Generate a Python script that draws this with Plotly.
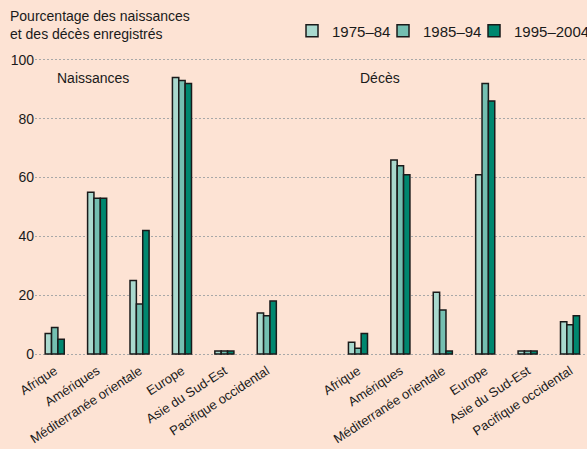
import plotly.graph_objects as go

regions = ["Afrique", "Amériques", "Méditerranée orientale", "Europe",
           "Asie du Sud-Est", "Pacifique occidental"]
periods = ["1975–84", "1985–94", "1995–2004"]
panels = ["Naissances", "Décès"]

births_7584 = [7, 55, 25, 94, 1, 14]
births_8594 = [9, 53, 17, 93, 1, 13]
births_9504 = [5, 53, 42, 92, 1, 18]

deaths_7584 = [4, 66, 21, 61, 1, 11]
deaths_8594 = [2, 64, 15, 92, 1, 10]
deaths_9504 = [7, 61, 1, 86, 1, 13]

y_ticks = [0, 20, 40, 60, 80, 100]

colors = ["#A9D9CE", "#74BFB1", "#00876F"]
FONT = "Liberation Sans, Arial, Helvetica, sans-serif"
BG = "#FDE3D4"
INK = "#1a1a1a"

panel_offset = len(regions) + 1.15
x_births = [i for i in range(len(regions))]
x_deaths = [i + panel_offset for i in range(len(regions))]

series = [
    (births_7584, deaths_7584),
    (births_8594, deaths_8594),
    (births_9504, deaths_9504),
]

fig = go.Figure()
for k, (b, d) in enumerate(series):
    fig.add_trace(go.Bar(
        x=x_births + x_deaths,
        y=b + d,
        name=periods[k],
        marker=dict(color=colors[k], line=dict(color=INK, width=1.5)),
    ))

# invisible spacer legend entry (scatter, so it does not take a bar slot)
fig.add_trace(go.Scatter(x=[None], y=[None], name=" ", mode="markers",
                         hoverinfo="skip",
                         marker=dict(color="rgba(0,0,0,0)", size=1)))

for name, x0 in zip(panels, [x_births[0], x_deaths[0]]):
    fig.add_annotation(x=x0, y=94, xref="x", yref="y", text=name,
                       showarrow=False, xanchor="left", yanchor="middle",
                       font=dict(size=14, color=INK, family=FONT))

fig.add_annotation(
    text="Pourcentage des naissances<br>et des décès enregistrés",
    xref="paper", yref="paper", x=-27 / 552, y=1 + 51 / 300,
    xanchor="left", yanchor="top", align="left", showarrow=False,
    font=dict(size=14, family=FONT, color=INK),
)

fig.update_layout(
    width=587, height=449,
    paper_bgcolor=BG, plot_bgcolor=BG,
    font=dict(family=FONT, size=14, color=INK),
    margin=dict(l=35, r=0, t=57, b=92, autoexpand=False),
    barmode="group", bargap=0.55, bargroupgap=0,
    legend=dict(orientation="h", x=0.4656, xanchor="left", y=1.087, yanchor="middle",
                font=dict(size=15, family=FONT, color=INK), bgcolor="rgba(0,0,0,0)",
                traceorder="normal", entrywidth=46, entrywidthmode="pixels"),
    showlegend=True,
)
fig.update_xaxes(
    range=[-0.465, 12.55],
    tickvals=x_births + x_deaths,
    ticktext=regions + regions,
    tickangle=-33, showgrid=False, zeroline=False, showline=False, ticks="",
    ticklabelstandoff=3,
    tickfont=dict(size=13, family=FONT, color=INK),
)
fig.update_yaxes(
    range=[-1, 101], tickvals=y_ticks,
    showgrid=True, gridcolor="#a8a8a8", gridwidth=1, griddash="2px,2px",
    zeroline=False, showline=False, ticks="",
    tickfont=dict(size=14, family=FONT, color=INK),
)

fig.write_html("out.html", config={"displayModeBar": False},
               post_script="document.body.style.margin='0';")
